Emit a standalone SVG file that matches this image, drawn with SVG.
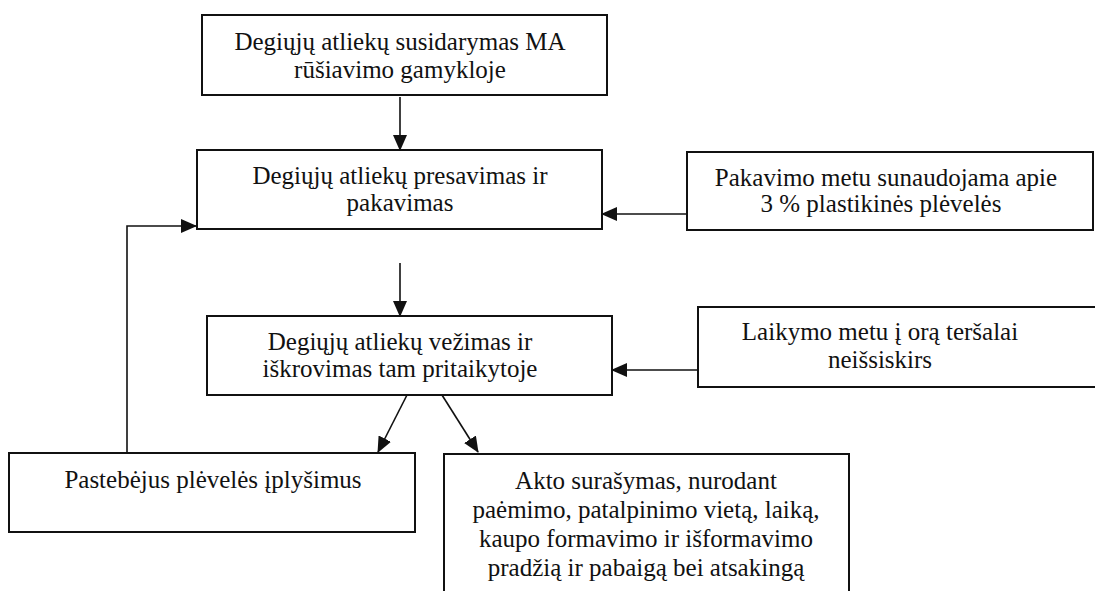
<svg xmlns="http://www.w3.org/2000/svg" width="1095" height="591" viewBox="0 0 1095 591">
<style>
.box{fill:#fff;stroke:#111;stroke-width:2}
.t{font-family:'Liberation Serif','DejaVu Serif',serif;font-size:25px;fill:#111;text-anchor:middle}
.c{stroke:#111;stroke-width:1.6;fill:none}
</style>
<defs>
<marker id="ah" markerUnits="userSpaceOnUse" markerWidth="16" markerHeight="14" refX="15" refY="7" orient="auto">
<path d="M0,0 L16,7 L0,14 Z" fill="#111"/>
</marker>
</defs>
<rect width="1095" height="591" fill="#fff"/>
<g id="n1">
<rect class="box" x="202" y="15" width="405" height="80"/>
<text class="t" x="400" y="50">Degiųjų atliekų susidarymas MA</text>
<text class="t" x="400" y="78">rūšiavimo gamykloje</text>
</g>
<g id="n2">
<rect class="box" x="197" y="150" width="405" height="79"/>
<text class="t" x="400" y="184">Degiųjų atliekų presavimas ir</text>
<text class="t" x="400" y="211">pakavimas</text>
</g>
<g id="n3">
<rect class="box" x="687" y="152" width="406" height="78"/>
<text class="t" x="886" y="186">Pakavimo metu sunaudojama apie</text>
<text class="t" x="881" y="212">3 % plastikinės plėvelės</text>
</g>
<g id="n4">
<rect class="box" x="207" y="316" width="405" height="79"/>
<text class="t" x="400" y="350">Degiųjų atliekų vežimas ir</text>
<text class="t" x="400" y="377">iškrovimas tam pritaikytoje</text>
</g>
<g id="n5">
<rect class="box" x="698" y="307" width="402" height="80"/>
<text class="t" x="880" y="340">Laikymo metu į orą teršalai</text>
<text class="t" x="880" y="368">neišsiskirs</text>
</g>
<g id="n6">
<rect class="box" x="9" y="453" width="406" height="79"/>
<text class="t" x="213" y="488">Pastebėjus plėvelės įplyšimus</text>
</g>
<g id="n7">
<rect class="box" x="444" y="454" width="405" height="150"/>
<text class="t" x="646" y="489">Akto surašymas, nurodant</text>
<text class="t" x="646" y="518">paėmimo, patalpinimo vietą, laiką,</text>
<text class="t" x="646" y="547">kaupo formavimo ir išformavimo</text>
<text class="t" x="646" y="576">pradžią ir pabaigą bei atsakingą</text>
</g>
<g id="connectors">
<line class="c" x1="400" y1="97" x2="400" y2="150" marker-end="url(#ah)"/>
<line class="c" x1="687" y1="214" x2="602" y2="214" marker-end="url(#ah)"/>
<line class="c" x1="400" y1="263" x2="400" y2="316" marker-end="url(#ah)"/>
<line class="c" x1="698" y1="370" x2="612" y2="370" marker-end="url(#ah)"/>
<line class="c" x1="407" y1="395" x2="378" y2="452" marker-end="url(#ah)"/>
<line class="c" x1="442" y1="395" x2="478" y2="452" marker-end="url(#ah)"/>
<polyline class="c" points="127,453 127,226 196,226" marker-end="url(#ah)"/>
</g>
</svg>
